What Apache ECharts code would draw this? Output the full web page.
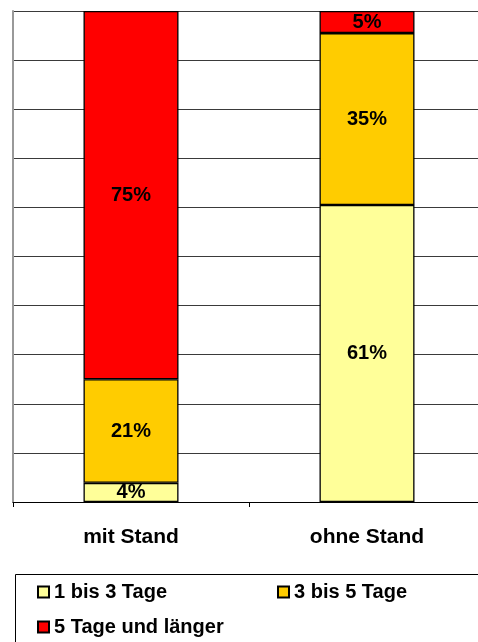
<!DOCTYPE html>
<html>
<head>
<meta charset="utf-8">
<script src="https://cdn.jsdelivr.net/npm/echarts@6/dist/echarts.min.js"></script>
<style>
html,body{margin:0;padding:0;background:#fff;}
#chart{width:478px;height:642px;}
</style>
</head>
<body>
<div id="chart"></div>
<script>
const categories = ['mit Stand', 'ohne Stand'];
const seriesNames = ['1 bis 3 Tage', '3 bis 5 Tage', '5 Tage und länger'];
const tage1bis3 = [3.9, 60.5];
const tage3bis5 = [21.1, 35.0];
const tage5plus = [75.0, 4.5];
const yTicks = [0, 10, 20, 30, 40, 50, 60, 70, 80, 90, 100];

const colors = ['#FFFF99', '#FFCC00', '#FF0000'];
const FONT = 'Liberation Sans, Arial, sans-serif';
const values = [tage1bis3, tage3bis5, tage5plus];

const chart = echarts.init(document.getElementById('chart'), null, {renderer: 'canvas'});

const series = seriesNames.map((name, i) => ({
  name: name,
  type: 'bar',
  stack: 'total',
  barWidth: 95,
  data: values[i],
  itemStyle: {color: colors[i], borderColor: '#000', borderWidth: 1.3},
  label: {
    show: true,
    position: 'inside',
    formatter: p => Math.round(p.value) + '%',
    color: '#000',
    fontWeight: 'bold',
    fontSize: 20,
    fontFamily: FONT
  },
  emphasis: {disabled: true}
}));

const legendPos = [
  {left: 37, top: 582},
  {left: 277, top: 582},
  {left: 37, top: 617}
];

chart.setOption({
  animation: false,
  backgroundColor: '#fff',
  grid: {left: 13, top: 11, width: 472, height: 491, outerBoundsMode: 'none', containLabel: false},
  xAxis: {
    type: 'category',
    data: categories,
    axisLine: {show: true, lineStyle: {color: '#000', width: 1}},
    axisTick: {show: true, length: 5, lineStyle: {color: '#000'}},
    axisLabel: {color: '#000', fontWeight: 'bold', fontSize: 21, fontFamily: FONT, margin: 25}
  },
  yAxis: {
    type: 'value',
    min: yTicks[0],
    max: yTicks[yTicks.length - 1],
    interval: yTicks[1] - yTicks[0],
    axisLine: {show: true, lineStyle: {color: '#999', width: 2}},
    axisTick: {show: false},
    axisLabel: {show: false},
    splitLine: {show: true, lineStyle: {color: '#3a3a3a', width: 1}}
  },
  legend: seriesNames.map((name, i) => ({
    data: [name],
    left: legendPos[i].left,
    top: legendPos[i].top,
    padding: 0,
    icon: 'rect',
    itemWidth: 11,
    itemHeight: 11,
    itemGap: 5,
    selectedMode: false,
    textStyle: {color: '#000', fontWeight: 'bold', fontSize: 20, fontFamily: FONT}
  })),
  graphic: [{
    type: 'rect',
    shape: {x: 15.5, y: 574.5, width: 480, height: 100},
    style: {fill: 'none', stroke: '#000', lineWidth: 1},
    silent: true
  }],
  series: series
});
</script>
</body>
</html>
